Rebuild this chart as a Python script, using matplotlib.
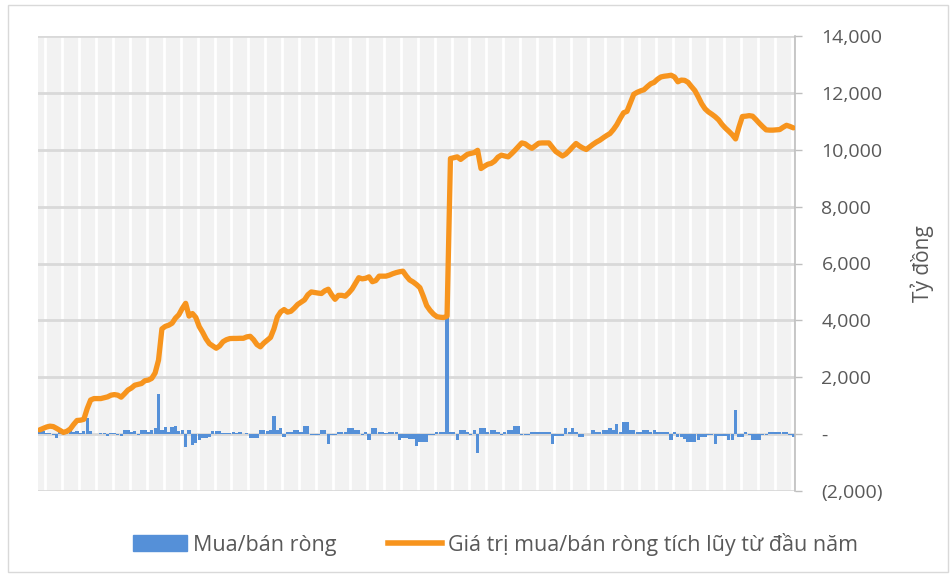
import numpy as np
import matplotlib.pyplot as plt
from matplotlib.patches import Patch, Rectangle
from matplotlib.lines import Line2D
from matplotlib.ticker import FuncFormatter

plt.rcParams['font.family'] = ['Open Sans', 'DejaVu Sans']

# daily net buy/sell (ty dong)
net = [140, 100, 50, 40, -30, -120, 60, 50, 140, 140,
       90, 120, 40, 120, 550, 100, 20, 10, 30, 30,
       -50, 50, 40, -30, -50, 140, 140, 80, 120, -40,
       130, 130, 60, 130, 200, 1400, 140, 250, 80, 260,
       270, 100, 140, -470, 140, -390, -300, -210, -120, -150,
       -100, 120, 120, 100, 50, 50, 40, 60, 50, 60,
       20, 50, -150, -150, -120, 130, 130, 100, 140, 640,
       140, 200, -110, 80, 80, 140, 140, 60, 280, 280,
       -35, -35, -30, 140, 140, -330, -20, -30, 80, 80,
       60, 200, 200, 140, 140, -35, 60, -210, 200, 200,
       60, 60, 50, 60, 60, 60, -210, -120, -120, -180,
       -180, -420, -270, -270, -270, -35, -35, 60, 60, 60,
       4080, 60, 60, -210, 140, 140, 80, -40, 140, -680,
       200, 200, 80, 140, 140, 80, -40, 80, 140, 140,
       280, 280, -35, -35, -35, 60, 60, 60, 60, 60,
       60, -330, -50, -50, -50, 200, 60, 200, 60, -110,
       -110, 20, 20, 140, 60, 60, 140, 140, 200, 140,
       350, 60, 430, 430, 140, 140, 60, 60, 140, 140,
       60, 140, 60, 60, 60, 60, -210, 60, -110, -110,
       -180, -270, -270, -270, -210, -90, -90, -40, -40, -330,
       -70, -70, -70, -210, -210, 840, -110, -110, 60, -40,
       -210, -210, -210, -40, -40, 60, 60, 60, 60, 60,
       60, -40, -110]

# cumulative value since start of year
cum = [150, 200, 250, 280, 265, 200, 130, 60, 100, 180,
       340, 480, 490, 520, 900, 1200, 1250, 1250, 1250, 1280,
       1310, 1370, 1390, 1370, 1300, 1420, 1550, 1620, 1720, 1750,
       1780, 1880, 1900, 1960, 2150, 2600, 3700, 3790, 3830, 3900,
       4080, 4200, 4420, 4600, 4150, 4240, 4100, 3780, 3580, 3350,
       3180, 3100, 3020, 3100, 3250, 3320, 3360, 3365, 3365, 3370,
       3370, 3420, 3440, 3320, 3150, 3070, 3200, 3300, 3400, 3700,
       4120, 4300, 4380, 4290, 4320, 4430, 4560, 4640, 4720, 4900,
       5000, 4980, 4960, 4945, 5040, 5095, 4900, 4740, 4880, 4880,
       4850, 4960, 5100, 5300, 5500, 5460, 5480, 5530, 5360, 5400,
       5555, 5555, 5555, 5590, 5640, 5680, 5710, 5730, 5560, 5420,
       5350, 5260, 5150, 4850, 4520, 4350, 4220, 4130, 4110, 4100,
       4150, 9690, 9720, 9750, 9660, 9750, 9840, 9870, 9900, 9980,
       9340, 9420, 9490, 9520, 9600, 9740, 9810, 9780, 9750, 9860,
       9980, 10110, 10240, 10210, 10120, 10050, 10140, 10230, 10240, 10240,
       10240, 10090, 9940, 9860, 9780, 9850, 9970, 10100, 10220, 10130,
       10060, 10010, 10100, 10190, 10270, 10335, 10420, 10500, 10570, 10710,
       10880, 11100, 11300, 11350, 11650, 11950, 12020, 12070, 12110, 12220,
       12320, 12370, 12480, 12560, 12585, 12600, 12620, 12560, 12390, 12450,
       12440, 12370, 12220, 12080, 11860, 11620, 11440, 11330, 11250, 11160,
       11050, 10890, 10760, 10650, 10530, 10380, 10800, 11170, 11180, 11200,
       11180, 11060, 10930, 10810, 10700, 10690, 10690, 10700, 10710, 10790,
       10860, 10820, 10770]

days = np.arange(len(net))

blue = '#5590d8'
orange = '#f7941d'
txt = '#595959'

fig = plt.figure(figsize=(9.53, 5.77), dpi=100)
ax = fig.add_axes([38 / 953, 1 - 491 / 577, 757 / 953, 455 / 577])
ax.set_facecolor('#f2f2f2')

# white vertical bands every 5 sessions
for xv in np.arange(1.5, len(net), 5):
    ax.axvline(xv, color='white', lw=2, zorder=0)

ax.bar(days, net, width=0.95, color=blue, zorder=2)
ax.plot(days, cum, color=orange, lw=3.8, solid_joinstyle='round',
        solid_capstyle='round', zorder=3)

ax.set_xlim(-0.5, len(net) - 0.5)
ax.set_ylim(-2000, 14000)
ax.set_yticks(np.arange(-2000, 14001, 2000))
ax.grid(axis='y', color='#d9d9d9', lw=2, zorder=1)
ax.set_axisbelow(True)


def fmt(v, pos):
    if v == 0:
        return '-'
    if v < 0:
        return '({:,.0f})'.format(-v)
    return '{:,.0f}'.format(v)


ax.yaxis.set_major_formatter(FuncFormatter(fmt))
ax.yaxis.tick_right()
ax.yaxis.set_label_position('right')
ax.tick_params(axis='y', length=5, width=1, color='#bfbfbf', pad=14,
               labelsize=14, labelcolor=txt)
ax.tick_params(axis='x', bottom=False, labelbottom=False)
for s in ['top', 'left', 'bottom']:
    ax.spines[s].set_visible(False)
ax.spines['right'].set_color('#bfbfbf')
ax.spines['right'].set_linewidth(1.2)
ax.set_ylabel('Tỷ đồng', fontsize=15, color=txt, labelpad=20)

handles = [Patch(color=blue), Line2D([], [], color=orange, lw=4)]
labels = ['Mua/bán ròng', 'Giá trị mua/bán ròng tích lũy từ đầu năm']
fig.legend(handles, labels, loc='center', bbox_to_anchor=(0.52, 1 - 544 / 577),
           ncol=2, frameon=False, fontsize=15.5, labelcolor=txt,
           handlelength=2.5, handletextpad=0.3, columnspacing=2.4)

fig.patches.append(Rectangle((8 / 953, 5 / 577), 940 / 953, 567 / 577,
                             transform=fig.transFigure, fill=False,
                             edgecolor='#d9d9d9', lw=1))

fig.savefig('out.png', dpi=100)
